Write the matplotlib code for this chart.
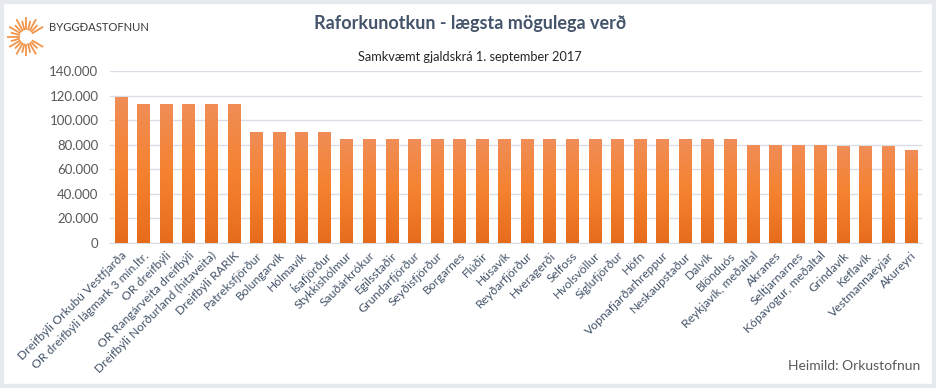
import numpy as np
import matplotlib
matplotlib.use("Agg")
import matplotlib.pyplot as plt
from matplotlib.colors import LinearSegmentedColormap
from matplotlib.patches import Rectangle
from matplotlib.ticker import FuncFormatter

plt.rcParams['font.family'] = ['Lato', 'DejaVu Sans']

# data (kr.)
places = [
    "Dreifbýli Orkubú Vestfjarða", "OR dreifbýli lágmark 3 mín.ltr.",
    "OR dreifbýli", "OR Rangárveita dreifbýli",
    "Dreifbýli Norðurland (hitaveita)", "Dreifbýli RARIK",
    "Patreksfjörður", "Bolungarvík", "Hólmavík", "Ísafjörður",
    "Stykkishólmur", "Sauðárkrókur", "Egilsstaðir", "Grundarfjörður",
    "Seyðisfjörður", "Borgarnes", "Flúðir", "Húsavík", "Reyðarfjörður",
    "Hveragerði", "Selfoss", "Hvolsvöllur", "Siglufjörður", "Höfn",
    "Vopnafjarðarhreppur", "Neskaupstaður", "Dalvík", "Blönduós",
    "Reykjavík, meðaltal", "Akranes", "Seltjarnarnes", "Kópavogur, meðaltal",
    "Grindavík", "Keflavík", "Vestmannaeyjar", "Akureyri",
]
prices = [
    118700, 113300, 113300, 113300, 113300, 113300,
    90500, 90500, 90500, 90500,
    84300, 84300, 84300, 84300, 84300, 84300, 84300, 84300, 84300,
    84300, 84300, 84300, 84300, 84300, 84300, 84300, 84300, 84300,
    80000, 80000, 80000, 80000,
    78600, 78600, 78600,
    75600,
]
yticks = np.arange(0, 140001, 20000)

fig = plt.figure(figsize=(9.36, 3.88), dpi=100)
fig.patches.append(Rectangle((0, 0), 1, 1, transform=fig.transFigure,
                             fill=False, edgecolor="#E6EAEE", linewidth=6))

ax = fig.add_axes([0.117, 0.374, 0.868, 0.443])
x = np.arange(len(places))
bars = ax.bar(x, prices, width=0.54, color="#EE7A2E", zorder=2)

# gradient fill, light at the top, darker at the bottom
cmap = LinearSegmentedColormap.from_list("org", ["#E66C1C", "#F5822F", "#F08D57"])
grad = np.linspace(0, 1, 256).reshape(-1, 1)
for b in bars:
    im = ax.imshow(grad, cmap=cmap, origin="lower", aspect="auto", zorder=3,
                   extent=[b.get_x(), b.get_x() + b.get_width(), 0, b.get_height()])
    im.set_clip_path(b)

ax.set_xlim(-0.5, len(places) - 0.5)
ax.set_ylim(0, 140000)
ax.set_yticks(yticks)
ax.yaxis.set_major_formatter(FuncFormatter(lambda v, p: f"{int(v):,}".replace(",", ".")))
ax.grid(axis="y", color="#D9DEE6", linewidth=1, zorder=0)
for s in ["top", "right", "left"]:
    ax.spines[s].set_visible(False)
ax.spines["bottom"].set_color("#D9DEE6")
ax.tick_params(axis="both", length=0, colors="#595959", labelsize=9.5)
ax.tick_params(axis="y", pad=8)
ax.set_xticks(x)
ax.set_xticklabels(places, rotation=45, ha="right", rotation_mode="anchor",
                   fontsize=8.7, color="#44546A")
ax.tick_params(axis="x", pad=5)

fig.text(0.502, 0.94, "Raforkunotkun - lægsta mögulega verð", ha="center",
         va="center", fontsize=13, fontweight="bold", color="#44546A")
fig.text(0.502, 0.853, "Samkvæmt gjaldskrá 1. september 2017", ha="center",
         va="center", fontsize=9.2, color="#262626")
fig.text(0.983, 0.056, "Heimild: Orkustofnun", ha="right", va="center",
         fontsize=10, color="#595959")

# logo
lax = fig.add_axes([0.008, 0.855, 0.04, 0.1])
lax.set_xlim(-1, 1)
lax.set_ylim(-1, 1)
lax.axis("off")
for a in np.linspace(0, 2 * np.pi, 24, endpoint=False):
    if abs(np.angle(np.exp(1j * a))) < 0.35:
        continue
    r1 = 0.4
    r2 = 1.0 if int(round(a / (2 * np.pi / 24))) % 2 == 0 else 0.8
    lax.plot([r1 * np.cos(a), r2 * np.cos(a)], [r1 * np.sin(a), r2 * np.sin(a)],
             color="#F2944A", linewidth=1.3)
fig.text(0.052, 0.93, "BYGGÐASTOFNUN", ha="left", va="center",
         fontsize=8.1, color="#3A3A3A")

fig.savefig("out.png", dpi=100)
